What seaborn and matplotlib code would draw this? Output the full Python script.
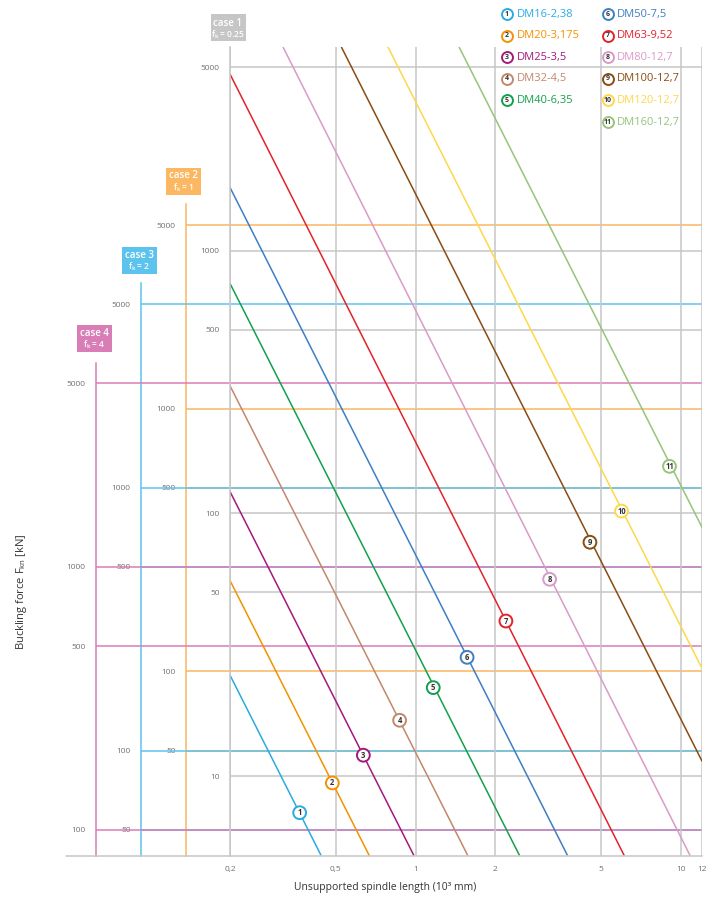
import pandas as pd
import seaborn as sns
import matplotlib.pyplot as plt
from matplotlib.ticker import FixedLocator, NullFormatter, FuncFormatter
from matplotlib.patches import Rectangle
from matplotlib.lines import Line2D

# spindle types, numbered 1..11 on the chart
names = ['DM16-2,38', 'DM20-3,175', 'DM25-3,5', 'DM32-4,5', 'DM40-6,35', 'DM50-7,5',
         'DM63-9,52', 'DM80-12,7', 'DM100-12,7', 'DM120-12,7', 'DM160-12,7']
colors = ['#29abe2', '#f39200', '#a3197c', '#c3876b', '#13a04b', '#3f7ec3',
          '#e2232b', '#d99ac7', '#8a4b15', '#fdd84a', '#95c47a']

# line ends: length in 10^3 mm, force on the case 1 scale (kN)
len_start = [0.2, 0.2, 0.2, 0.2, 0.2, 0.2, 0.2, 0.317, 0.526, 0.788, 1.46]
force_start = [24.2, 55.5, 121, 306, 750, 1740, 4700, 5950, 5950, 5950, 5950]
len_end = [0.44, 0.668, 0.984, 1.57, 2.46, 3.73, 6.1, 10.8, 12, 12, 12]
force_end = [5, 5, 5, 5, 5, 5, 5, 5, 11.4, 25.7, 88.5]

# where the numbered circles sit on the lines
mark_len = [0.366, 0.486, 0.636, 0.871, 1.166, 1.564, 2.19, 3.20, 4.54, 5.97, 9.05]
mark_force = [7.25, 9.41, 12.0, 16.3, 21.7, 28.3, 38.9, 56.1, 77.6, 102, 151]

# mounting cases, each has its own force scale (multiple of case 1)
case_names = ['case 1', 'case 2', 'case 3', 'case 4']
case_fk = ['0.25', '1', '2', '4']
case_factor = [1, 4, 8, 16]
case_colors = ['#c6c6c6', '#fbb762', '#5cc3ee', '#d87db5']

x_ticks = [0.2, 0.5, 1, 2, 5, 10, 12]
x_minor = [0.3, 0.4, 0.6, 0.7, 0.8, 0.9, 3, 4, 6, 7, 8, 9, 11]
y_major = [10, 50, 100, 500, 1000, 5000]
y_lo, y_hi, scale_top = 4.96, 5960, 6000

sns.set_style('white')
plt.rcParams['font.family'] = ['Open Sans', 'DejaVu Sans']
plt.rcParams['mathtext.default'] = 'regular'

W, H = 718, 897
fig = plt.figure(figsize=(W / 100, H / 100), dpi=100)
L, R, T, B = 230, 702, 47, 856  # plot box in pixels
fx = lambda px: px / W
fy = lambda py: 1 - py / H

grey_txt = '#707070'
grid_c = case_colors[0]
tick_fs = 6


def minors(lo, hi):
    out = []
    for d in [1, 10, 100, 1000, 10000, 100000]:
        for m in [2, 3, 4, 6, 7, 8, 9]:
            v = m * d
            if lo <= v <= hi:
                out.append(v)
    return out


# extra force scales for cases 2-4
case_x = [None, 186, 141, 96]
for i in range(1, 4):
    f, c, xp = case_factor[i], case_colors[i], case_x[i]
    cax = fig.add_axes([fx(xp), fy(B), fx(R - xp), fy(T) - fy(B)], facecolor='none')
    cax.set_yscale('log')
    cax.set_ylim(y_lo * f, y_hi * f)
    cax.set_xlim(0, 1)
    cax.set_xticks([])
    for s in ['top', 'right', 'bottom']:
        cax.spines[s].set_visible(False)
    cax.spines['left'].set_color(c)
    cax.spines['left'].set_linewidth(1.1)
    cax.spines['left'].set_bounds(y_lo * f, scale_top)
    cax.yaxis.set_major_locator(FixedLocator([v for v in y_major if y_lo * f <= v <= scale_top]))
    cax.yaxis.set_major_formatter(FuncFormatter(lambda v, p: f'{v:g}'))
    cax.yaxis.set_minor_locator(FixedLocator(minors(y_lo * f, scale_top)))
    cax.yaxis.set_minor_formatter(NullFormatter())
    cax.grid(True, axis='y', which='major', color=c, lw=1.1)
    cax.tick_params(axis='y', which='major', length=6, width=1.1, color=c,
                    labelcolor=grey_txt, labelsize=tick_fs, pad=1.5)
    cax.tick_params(axis='y', which='minor', length=4, width=1.1, color=c)

# main chart, case 1 scale
ax = fig.add_axes([fx(L), fy(B), fx(R - L), fy(T) - fy(B)], facecolor='none', zorder=10)
ax.set_xscale('log')
ax.set_yscale('log')

rows = []
for n, x0, y0, x1, y1 in zip(names, len_start, force_start, len_end, force_end):
    rows.append((n, x0, y0))
    rows.append((n, x1, y1))
lines = pd.DataFrame(rows, columns=['spindle', 'length', 'force'])
sns.lineplot(data=lines, x='length', y='force', hue='spindle', hue_order=names,
             palette=dict(zip(names, colors)), estimator=None, sort=False,
             legend=False, lw=1.1, ax=ax)

ax.scatter(mark_len, mark_force, s=85, facecolors='white', edgecolors=colors,
           linewidths=1.4, zorder=5)
for i, (xm, ym) in enumerate(zip(mark_len, mark_force)):
    ax.text(xm, ym, str(i + 1), ha='center', va='center', fontsize=5.5,
            fontweight='bold', color='#333333', zorder=6)

ax.set_xlim(0.2, 12)
ax.set_ylim(y_lo, y_hi)
ax.xaxis.set_major_locator(FixedLocator(x_ticks))
ax.xaxis.set_major_formatter(FuncFormatter(lambda v, p: f'{v:g}'.replace('.', ',')))
ax.xaxis.set_minor_locator(FixedLocator(x_minor))
ax.xaxis.set_minor_formatter(NullFormatter())
ax.yaxis.set_major_locator(FixedLocator(y_major))
ax.yaxis.set_major_formatter(FuncFormatter(lambda v, p: f'{v:g}'))
ax.yaxis.set_minor_locator(FixedLocator(minors(y_lo, y_hi)))
ax.yaxis.set_minor_formatter(NullFormatter())
ax.grid(True, which='major', color=grid_c, lw=1.1)
for s in ['top', 'right']:
    ax.spines[s].set_visible(False)
for s in ['left', 'bottom']:
    ax.spines[s].set_color(grid_c)
    ax.spines[s].set_linewidth(1.1)
ax.tick_params(which='major', length=6, width=1.1, color=grid_c, labelcolor=grey_txt,
               labelsize=tick_fs)
ax.tick_params(axis='y', which='major', pad=1.5)
ax.tick_params(axis='x', which='major', pad=1.5)
ax.tick_params(which='minor', length=4, width=1.1, color=grid_c)
ax.set_xlabel('')
ax.set_ylabel('')

# baseline continues under the extra scales
fig.add_artist(Line2D([fx(66), fx(L)], [fy(B), fy(B)], color=grid_c, lw=1.1))

# case boxes
box_pos = [(228, 28), (183.5, 181), (139.5, 260.5), (94.5, 338.5)]
for (cx, cy), nm, fk, c in zip(box_pos, case_names, case_fk, case_colors):
    fig.add_artist(Rectangle((fx(cx - 17.5), fy(cy + 13.5)), fx(35), 27 / H,
                             transform=fig.transFigure, facecolor=c, edgecolor='none'))
    fig.text(fx(cx), fy(cy - 5), nm, ha='center', va='center', fontsize=7,
             fontweight='semibold', color='white')
    fig.text(fx(cx), fy(cy + 6.5), 'f$_k$ = ' + fk, ha='center', va='center',
             fontsize=6, fontweight='semibold', color='white')

# legend
leg = fig.add_axes([0, 0, 1, 1], facecolor='none', zorder=20)
leg.set_xlim(0, W)
leg.set_ylim(H, 0)
leg.axis('off')
for i, (n, c) in enumerate(zip(names, colors)):
    col, row = (0, i) if i < 5 else (1, i - 5)
    xc = 507 + col * 100.5
    yc = 14 + row * 21.6
    leg.scatter([xc], [yc], s=62, facecolors='white', edgecolors=c, linewidths=1.4)
    leg.text(xc, yc, str(i + 1), ha='center', va='center', fontsize=5,
             fontweight='bold', color='#333333')
    leg.text(xc + 9.5, yc, n, ha='left', va='center', fontsize=8, color=c)

fig.text(fx(385), fy(887), 'Unsupported spindle length (10³ mm)', ha='center',
         va='center', fontsize=7.5, color='#333333')
fig.text(fx(22), fy(592), 'Buckling force F$_{kn}$ [kN]', rotation=90, ha='center',
         va='center', fontsize=8, color='#333333')

fig.savefig('out.png', dpi=100)
